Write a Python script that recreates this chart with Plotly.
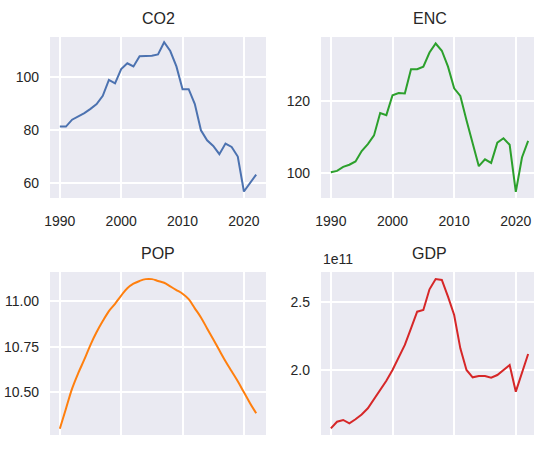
import plotly.graph_objects as go

years = list(range(1990, 2023))

co2 = [81.4, 81.4, 84.0, 85.2, 86.5, 88.1, 89.9, 93.0, 99.0, 97.7,
       103.1, 105.3, 104.1, 107.9, 107.9, 108.1, 108.6, 113.2, 109.9, 104.1,
       95.5, 95.5, 89.9, 80.0, 76.2, 74.1, 71.0, 75.0, 73.7, 70.1,
       56.9, 60.0, 63.3]

enc = [100.3, 100.7, 101.8, 102.4, 103.3, 106.2, 108.1, 110.5, 116.7, 116.1,
       121.6, 122.2, 122.1, 128.8, 128.8, 129.5, 133.4, 135.9, 133.9, 129.5,
       123.5, 121.4, 114.7, 108.3, 102.0, 103.9, 102.9, 108.5, 109.7, 107.9,
       94.9, 104.4, 109.0]

pop = [10.30, 10.41, 10.52, 10.605, 10.68, 10.76, 10.83, 10.89, 10.945, 10.985,
       11.03, 11.07, 11.095, 11.11, 11.12, 11.12, 11.11, 11.10, 11.08, 11.06,
       11.04, 11.01, 10.96, 10.91, 10.85, 10.79, 10.73, 10.67, 10.615, 10.56,
       10.50, 10.44, 10.385]

gdp = [1.569e11, 1.618e11, 1.631e11, 1.606e11, 1.636e11, 1.672e11, 1.717e11, 1.783e11, 1.852e11, 1.921e11,
       2.000e11, 2.091e11, 2.185e11, 2.308e11, 2.431e11, 2.443e11, 2.596e11, 2.672e11, 2.665e11, 2.542e11,
       2.406e11, 2.160e11, 2.000e11, 1.946e11, 1.956e11, 1.956e11, 1.943e11, 1.963e11, 2.000e11, 2.037e11,
       1.840e11, 1.988e11, 2.118e11]

titles = ["CO2", "ENC", "POP", "GDP"]
colors = ["#4C72B0", "#2ca02c", "#ff7f0e", "#d62728"]
shapes = ["linear", "linear", "spline", "linear"]

W, H = 534, 461
TXT = "#262626"
FONT = "Liberation Sans, Arial, sans-serif"

# panel pixel boxes (x0, x1, y0_top, y1_bottom)
boxes = [(50, 266, 37, 198), (321, 534, 37, 198), (50, 266, 272, 435), (321, 534, 272, 435)]
title_cx = [158, 429.5, 158, 429.5]
xranges = [[1988.4, 2023.6], [1988.4, 2022.95], [1988.4, 2023.6], [1988.4, 2022.95]]
yranges = [[54.45, 115.2], [93.2, 137.7], [10.266, 11.159], [1.520e11, 2.724e11]]
ytickv = [[60, 80, 100], [100, 120], [10.5, 10.75, 11.0], [2.0e11, 2.5e11]]
ytickt = [["60", "80", "100"], ["100", "120"], ["10.50", "10.75", "11.00"], ["2.0", "2.5"]]
xstand = [13, 13, 21, 21]

series = [co2, enc, pop, gdp]

fig = go.Figure()
layout = dict(
    width=W, height=H, autosize=False,
    margin=dict(l=0, r=0, t=0, b=0, pad=0),
    paper_bgcolor="white", plot_bgcolor="#EAEAF2",
    showlegend=False,
    font=dict(family=FONT, color=TXT, size=14),
    annotations=[],
)

for i in range(4):
    n = "" if i == 0 else str(i + 1)
    x0, x1, yt, yb = boxes[i]
    fig.add_trace(go.Scatter(x=years, y=series[i], mode="lines",
                             line=dict(color=colors[i], width=2, shape=shapes[i]),
                             xaxis="x" + n, yaxis="y" + n))
    layout["xaxis" + n] = dict(
        domain=[x0 / W, x1 / W], range=xranges[i], anchor="y" + n,
        tickvals=[1990, 2000, 2010, 2020], ticktext=["1990", "2000", "2010", "2020"],
        showgrid=True, gridcolor="white", gridwidth=1.5, zeroline=False,
        showline=False, ticks="", ticklabelstandoff=xstand[i],
        tickfont=dict(size=14, color=TXT, family=FONT), automargin=False)
    layout["yaxis" + n] = dict(
        domain=[1 - yb / H, 1 - yt / H], range=yranges[i], anchor="x" + n,
        tickvals=ytickv[i], ticktext=ytickt[i],
        showgrid=True, gridcolor="white", gridwidth=1.5, zeroline=False,
        showline=False, ticks="", ticklabelstandoff=10,
        tickfont=dict(size=14, color=TXT, family=FONT), automargin=False)
    layout["annotations"].append(dict(
        text=titles[i], x=title_cx[i] / W,
        y=1 - (yt - 8) / H, xref="paper", yref="paper",
        xanchor="center", yanchor="bottom", showarrow=False,
        font=dict(size=16, color=TXT, family=FONT)))

layout["annotations"].append(dict(
    text="1e11", x=321 / W, y=1 - 269 / H, xref="paper", yref="paper",
    xanchor="left", yanchor="bottom", showarrow=False,
    font=dict(size=14, color=TXT, family=FONT)))

fig.update_layout(**layout)
fig.write_html("out.html",
               config={"displayModeBar": False},
               post_script="document.body.style.margin='0';document.body.style.overflow='hidden';")
